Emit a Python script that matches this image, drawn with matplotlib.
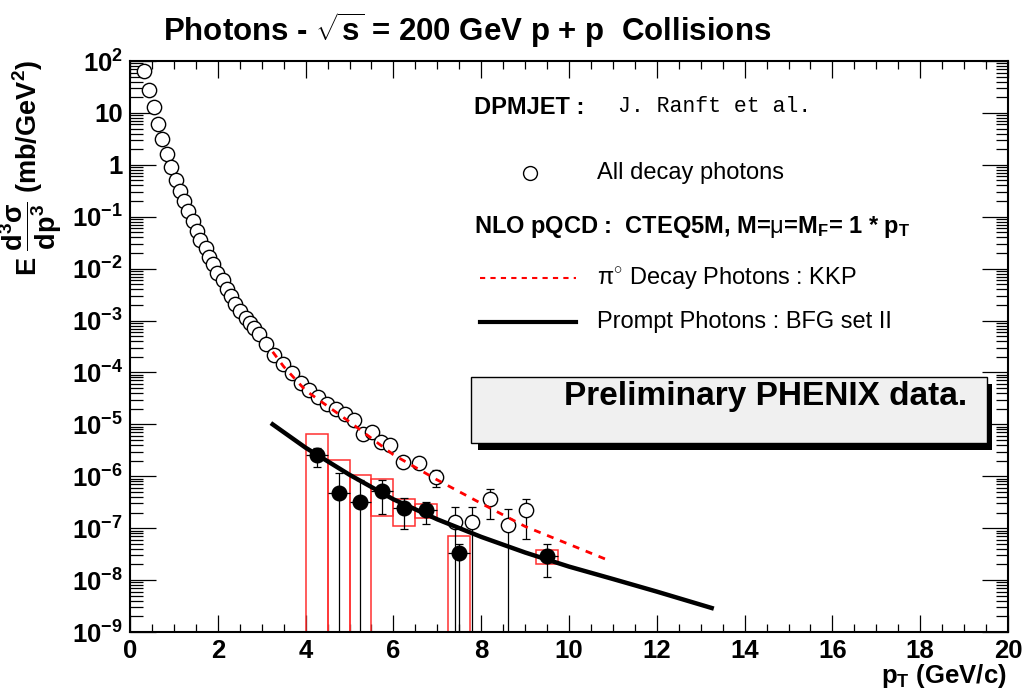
import matplotlib
matplotlib.use('Agg')
import matplotlib.pyplot as plt
import numpy as np
from matplotlib import font_manager
from matplotlib.patches import Rectangle
from matplotlib.lines import Line2D
from matplotlib.ticker import MultipleLocator, LogLocator, NullFormatter, FixedLocator

# ---------------- data ----------------
# all decay photons (DPMJET), open circles
open_pt = [0.33, 0.44, 0.55, 0.63, 0.73, 0.84, 0.93, 1.05, 1.14, 1.24, 1.33, 1.44, 1.52, 1.59,
           1.72, 1.80, 1.90, 1.99, 2.11, 2.20, 2.29, 2.39, 2.51, 2.64, 2.73, 2.82, 2.94, 3.09,
           3.28, 3.48, 3.70, 3.90, 4.08, 4.29, 4.49, 4.69, 4.90, 5.10, 5.31, 5.51, 5.71, 5.92,
           6.21, 6.59, 6.98, 7.40, 7.80, 8.20, 8.61, 9.01]
open_val = [64, 28, 13, 6.2, 3.1, 1.64, 0.91, 0.52, 0.32, 0.2, 0.127, 0.083, 0.054, 0.036,
            0.025, 0.017, 0.0124, 0.0084, 0.006, 0.0041, 0.003, 0.0021, 0.0015, 0.0011, 8.9e-4,
            7.1e-4, 5.6e-4, 3.5e-4, 2.2e-4, 1.45e-4, 9.6e-5, 6.3e-5, 4.6e-5, 3.3e-5, 2.5e-5,
            1.95e-5, 1.6e-5, 1.2e-5, 6.4e-6, 7.2e-6, 4.6e-6, 4.0e-6, 1.9e-6, 1.8e-6, 9.8e-7,
            1.3e-7, 1.3e-7, 3.6e-7, 1.15e-7, 2.2e-7]
# error bars of the high-pT open circles (lower 1e-10 = below the axis)
open_err_pt = [6.98, 7.40, 7.80, 8.20, 8.61, 9.01]
open_err_val = [9.8e-7, 1.3e-7, 1.3e-7, 3.6e-7, 1.15e-7, 2.2e-7]
open_err_hi = [1.35e-6, 2.6e-7, 2.6e-7, 5.6e-7, 2.3e-7, 3.7e-7]
open_err_lo = [6.1e-7, 1e-10, 1e-10, 1.48e-7, 1e-10, 6.3e-8]

# preliminary PHENIX direct photons, filled circles
fill_pt = [4.25, 4.75, 5.25, 5.75, 6.25, 6.75, 7.5, 9.5]
fill_val = [2.6e-6, 4.8e-7, 3.2e-7, 5.2e-7, 2.4e-7, 2.2e-7, 3.4e-8, 2.9e-8]
fill_hi = [3.5e-6, 1.15e-6, 8.5e-7, 8.5e-7, 3.9e-7, 3.2e-7, 5.0e-8, 4.9e-8]
fill_lo = [1.5e-6, 1e-10, 1e-10, 1.9e-7, 9.5e-8, 1.2e-7, 1e-10, 1.15e-8]
fill_xerr = [0.25, 0.25, 0.25, 0.25, 0.25, 0.25, 0.25, 0.25]

# systematic boxes
sys_pt = [4.25, 4.75, 5.25, 5.75, 6.25, 6.75, 7.5, 9.5]
sys_lo = [1e-10, 1e-10, 1e-10, 1.7e-7, 1.1e-7, 1.55e-7, 1e-10, 2.0e-8]
sys_hi = [6.4e-6, 2.1e-6, 1.05e-6, 8.7e-7, 3.7e-7, 2.9e-7, 7.1e-8, 3.8e-8]
sys_width = 0.5

# NLO pi0 decay photons (KKP)
pi0_pt = [3.25, 3.5, 4.0, 5.0, 6.0, 7.0, 8.0, 9.0, 10.0, 10.85]
pi0_val = [2.5e-4, 1.3e-4, 4.5e-5, 1.12e-5, 2.6e-6, 8.5e-7, 3.0e-7, 1.08e-7, 4.9e-8, 2.5e-8]

# NLO prompt photons (BFG set II)
prompt_pt = [3.25, 4.0, 5.0, 6.0, 7.0, 8.0, 9.0, 10.0, 11.0, 12.0, 13.25]
prompt_val = [1.0e-5, 3.55e-6, 1.07e-6, 3.6e-7, 1.48e-7, 6.8e-8, 3.4e-8, 1.82e-8, 1.05e-8,
              6.0e-9, 2.9e-9]

x_ticks = [0, 2, 4, 6, 8, 10, 12, 14, 16, 18, 20]
y_ticks = [1e-9, 1e-8, 1e-7, 1e-6, 1e-5, 1e-4, 1e-3, 1e-2, 1e-1, 1, 10, 100]
y_ticklabels = ['10$^{-9}$', '10$^{-8}$', '10$^{-7}$', '10$^{-6}$', '10$^{-5}$', '10$^{-4}$',
                '10$^{-3}$', '10$^{-2}$', '10$^{-1}$', '1', '10', '10$^{2}$']

# ---------------- style ----------------
plt.rcParams['font.family'] = ['Liberation Sans', 'DejaVu Sans']
plt.rcParams['mathtext.fontset'] = 'custom'
plt.rcParams['mathtext.rm'] = 'Liberation Sans'
plt.rcParams['mathtext.it'] = 'Liberation Sans:italic'
plt.rcParams['mathtext.bf'] = 'Liberation Sans:bold'
plt.rcParams['mathtext.sf'] = 'Liberation Sans'
plt.rcParams['mathtext.default'] = 'bf'

names = {f.name for f in font_manager.fontManager.ttflist}
if 'Liberation Sans Narrow' in names:
    title_family, title_size = ['Liberation Sans Narrow', 'DejaVu Sans'], 26
else:
    title_family, title_size = ['Liberation Sans', 'DejaVu Sans'], 22.5

W, H = 1024, 691
fig = plt.figure(figsize=(W / 100, H / 100), dpi=100)
ax = fig.add_axes([130 / W, 1 - 632 / H, (1008 - 130) / W, (632 - 61) / H])

ax.set_yscale('log')
ax.set_xlim(0, 20)
ax.set_ylim(1e-9, 1e2)

# systematic boxes
ax.bar(sys_pt, np.array(sys_hi) - np.array(sys_lo), bottom=sys_lo, width=sys_width,
       fill=False, edgecolor='#ff3030', linewidth=1.1, zorder=2)

# open circles with errors
ov = np.array(open_err_val)
ax.errorbar(open_err_pt, ov, yerr=[ov - np.array(open_err_lo), np.array(open_err_hi) - ov],
            fmt='none', ecolor='black', elinewidth=0.9, capsize=3, capthick=0.9, zorder=4)
ax.plot(open_pt, open_val, linestyle='none', marker='o', markersize=10.3, markerfacecolor='white',
        markeredgecolor='black', markeredgewidth=1.0, zorder=5)

# theory curves (drawn over the open circles)
ax.plot(pi0_pt, pi0_val, color='red', linestyle=(0, (2.5, 2.5)), linewidth=2.0, zorder=6)
ax.plot(prompt_pt, prompt_val, color='black', linewidth=3.2, zorder=6)

# filled circles
fv = np.array(fill_val)
ax.errorbar(fill_pt, fv, xerr=fill_xerr, fmt='none', ecolor='black', elinewidth=0.9,
            capsize=0, zorder=7)
ax.errorbar(fill_pt, fv, yerr=[fv - np.array(fill_lo), np.array(fill_hi) - fv],
            fmt='none', ecolor='black', elinewidth=0.9, capsize=3, capthick=0.9, zorder=7)
ax.plot(fill_pt, fill_val, linestyle='none', marker='o', markersize=10.5, color='black', zorder=8)

# ticks
ax.set_xticks(x_ticks)
ax.set_xticklabels([str(t) for t in x_ticks], fontweight='bold')
ax.xaxis.set_minor_locator(MultipleLocator(0.5))
ax.yaxis.set_major_locator(FixedLocator(y_ticks))
ax.set_yticklabels(y_ticklabels, fontweight='bold')
ax.yaxis.set_minor_locator(LogLocator(base=10, subs=np.arange(2, 10), numticks=30))
ax.yaxis.set_minor_formatter(NullFormatter())
ax.tick_params(axis='both', which='both', direction='in', top=True, right=True, width=0.9)
ax.tick_params(axis='x', which='major', length=12, pad=5, labelsize=18.5)
ax.tick_params(axis='x', which='minor', length=6)
ax.tick_params(axis='y', which='major', length=18.5, pad=5, labelsize=18.5)
ax.tick_params(axis='y', which='minor', length=9)
for s in ax.spines.values():
    s.set_linewidth(1.5)

# axis labels
fig.text(31 / W, 1 - 60 / H,
         r'$\mathbf{E\ \dfrac{d^{3}\sigma}{dp^{3}}\ (mb/GeV^{2})}$',
         rotation=90, ha='center', va='top', fontsize=19.5)
fig.text(1007 / W, 1 - 676 / H, r'p$_{\mathbf{T}}$ (GeV/c)', ha='right', va='center',
         fontsize=18.5, fontweight='bold')

# title
fig.text(467 / W, 1 - 30 / H, r'Photons - $\sqrt{\mathbf{s}}$ = 200 GeV p + p  Collisions',
         ha='center', va='center', fontsize=title_size, fontweight='bold', family=title_family)

# legend block
plt.rcParams['mathtext.default'] = 'regular'
fig.text(474 / W, 1 - 107 / H, 'DPMJET :', fontsize=17, fontweight='bold', va='center')
fig.text(618 / W, 1 - 107 / H, 'J. Ranft et al.', fontsize=15.5,
         family=['Liberation Mono', 'DejaVu Sans Mono'], va='center')
fig.add_artist(Line2D([530 / W], [1 - 173 / H], marker='o', markersize=10, markerfacecolor='white',
                      markeredgecolor='black', markeredgewidth=1.0, transform=fig.transFigure))
fig.text(597 / W, 1 - 173 / H, 'All decay photons', fontsize=17, va='center')
fig.text(474 / W, 1 - 227 / H,
         r'NLO pQCD :  CTEQ5M, M=$\mathrm{\mu}$=M$_{\mathbf{F}}$= 1 * p$_{\mathbf{T}}$',
         fontsize=17, fontweight='bold', va='center')
fig.add_artist(Line2D([480 / W, 576 / W], [1 - 278 / H] * 2, color='red',
                      linestyle=(0, (2.5, 2.5)), linewidth=1.5, transform=fig.transFigure))
fig.text(597 / W, 1 - 278 / H, r'$\mathrm{\pi^{\circ}}$ Decay Photons : KKP', fontsize=17,
         va='center')
fig.add_artist(Line2D([480 / W, 576 / W], [1 - 322 / H] * 2, color='black', linewidth=3.0,
                      transform=fig.transFigure))
fig.text(597 / W, 1 - 322 / H, 'Prompt Photons : BFG set II', fontsize=17, va='center')

# preliminary box with shadow
fig.add_artist(Rectangle((478 / W, 1 - 450 / H), (992 - 478) / W, (450 - 384) / H,
                         facecolor='black', edgecolor='none', transform=fig.transFigure))
fig.add_artist(Rectangle((471 / W, 1 - 443 / H), (987 - 471) / W, (443 - 377) / H,
                         facecolor='#f0f0f0', edgecolor='black', linewidth=1.0,
                         transform=fig.transFigure))
fig.text(766 / W, 1 - 397 / H, 'Preliminary PHENIX data.', fontsize=24, fontweight='bold',
         ha='center', va='center')

fig.savefig('out.png', dpi=100)
